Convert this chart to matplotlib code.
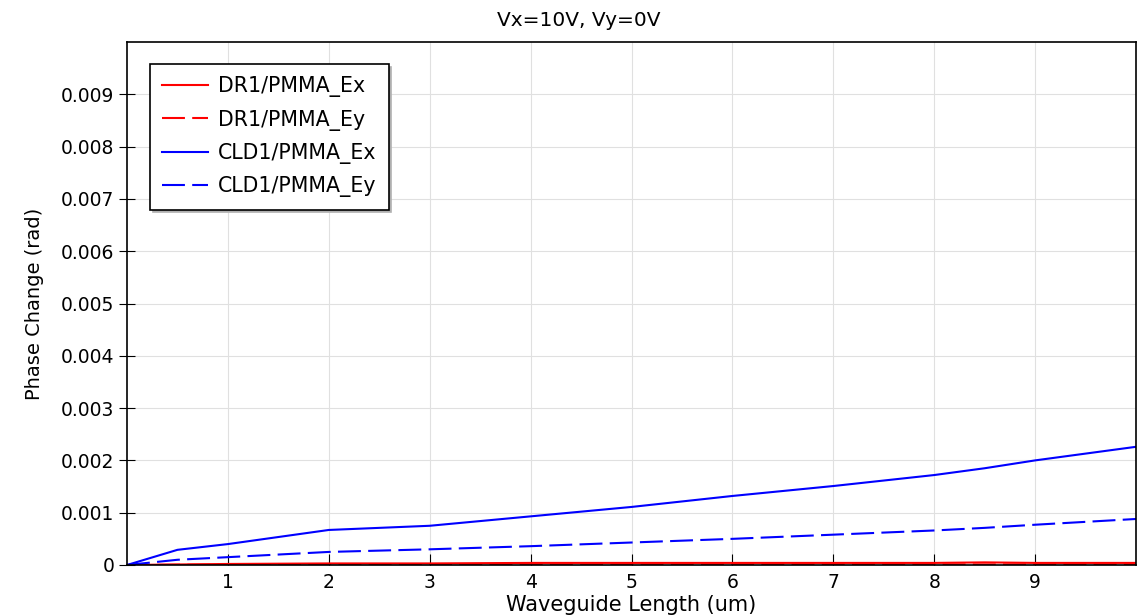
import matplotlib.pyplot as plt

# waveguide length (um)
length = [0, 0.5, 1, 2, 3, 4, 5, 6, 7, 8, 8.5, 9, 10]

dr1_ex = [0, 0.00001, 0.00002, 0.00003, 0.00003, 0.00004, 0.00004, 0.00004, 0.00004, 0.00004, 0.00005, 0.00004, 0.00004]
dr1_ey = [0, 0.000005, 0.000005, 0.00001, 0.00001, 0.00001, 0.00001, 0.00001, 0.00001, 0.00001, 0.00001, 0.00001, 0.00001]
cld1_ex = [0, 0.00029, 0.00040, 0.00067, 0.00075, 0.00093, 0.00111, 0.00132, 0.00151, 0.00172, 0.00185, 0.00200, 0.00226]
cld1_ey = [0, 0.00010, 0.00015, 0.00025, 0.00030, 0.00036, 0.00043, 0.00050, 0.00058, 0.00066, 0.00071, 0.00077, 0.00088]

plt.rcParams["font.family"] = ["DejaVu Sans"]
plt.rcParams["font.size"] = 13.5

fig = plt.figure(figsize=(11.37, 6.15), dpi=100)
ax = fig.add_axes([127 / 1137, 1 - 565 / 615, 1009 / 1137, 523 / 615])

dash = (0, (11, 3.5))
ax.plot(length, dr1_ex, color="red", lw=1.5, label="DR1/PMMA_Ex")
ax.plot(length, dr1_ey, color="red", lw=1.5, ls=dash, label="DR1/PMMA_Ey")
ax.plot(length, cld1_ex, color="blue", lw=1.5, label="CLD1/PMMA_Ex")
ax.plot(length, cld1_ey, color="blue", lw=1.5, ls=dash, label="CLD1/PMMA_Ey")

ax.set_xlim(0, 10)
ax.set_ylim(0, 0.01)
ax.set_xticks(range(1, 10))
ax.set_yticks([i / 1000 for i in range(0, 10)])
ax.set_yticklabels(["0"] + [f"{i / 1000:.3f}" for i in range(1, 10)])
ax.grid(color="#e0e0e0", lw=0.8)
ax.tick_params(axis="x", direction="in", length=8, pad=6)
ax.tick_params(axis="y", direction="inout", length=12, pad=3)
for s in ax.spines.values():
    s.set_linewidth(1.2)

fig.text(579 / 1137, 1 - 21 / 615, "Vx=10V, Vy=0V", fontsize=14.5,
         ha="center", va="center")
ax.set_xlabel("Waveguide Length (um)", fontsize=15, labelpad=2)
ax.set_ylabel("Phase Change (rad)", fontsize=14, labelpad=12)

leg = ax.legend(loc="upper left", bbox_to_anchor=(0.0228, 0.958), borderaxespad=0,
                fancybox=False, shadow={"color": "#b0b0b0", "alpha": 1},
                framealpha=1, edgecolor="black", handlelength=2.2,
                handletextpad=0.5, borderpad=0.6, labelspacing=0.6,
                fontsize=14.8)
leg.get_frame().set_linewidth(1.2)

fig.savefig("out.png", dpi=100)
